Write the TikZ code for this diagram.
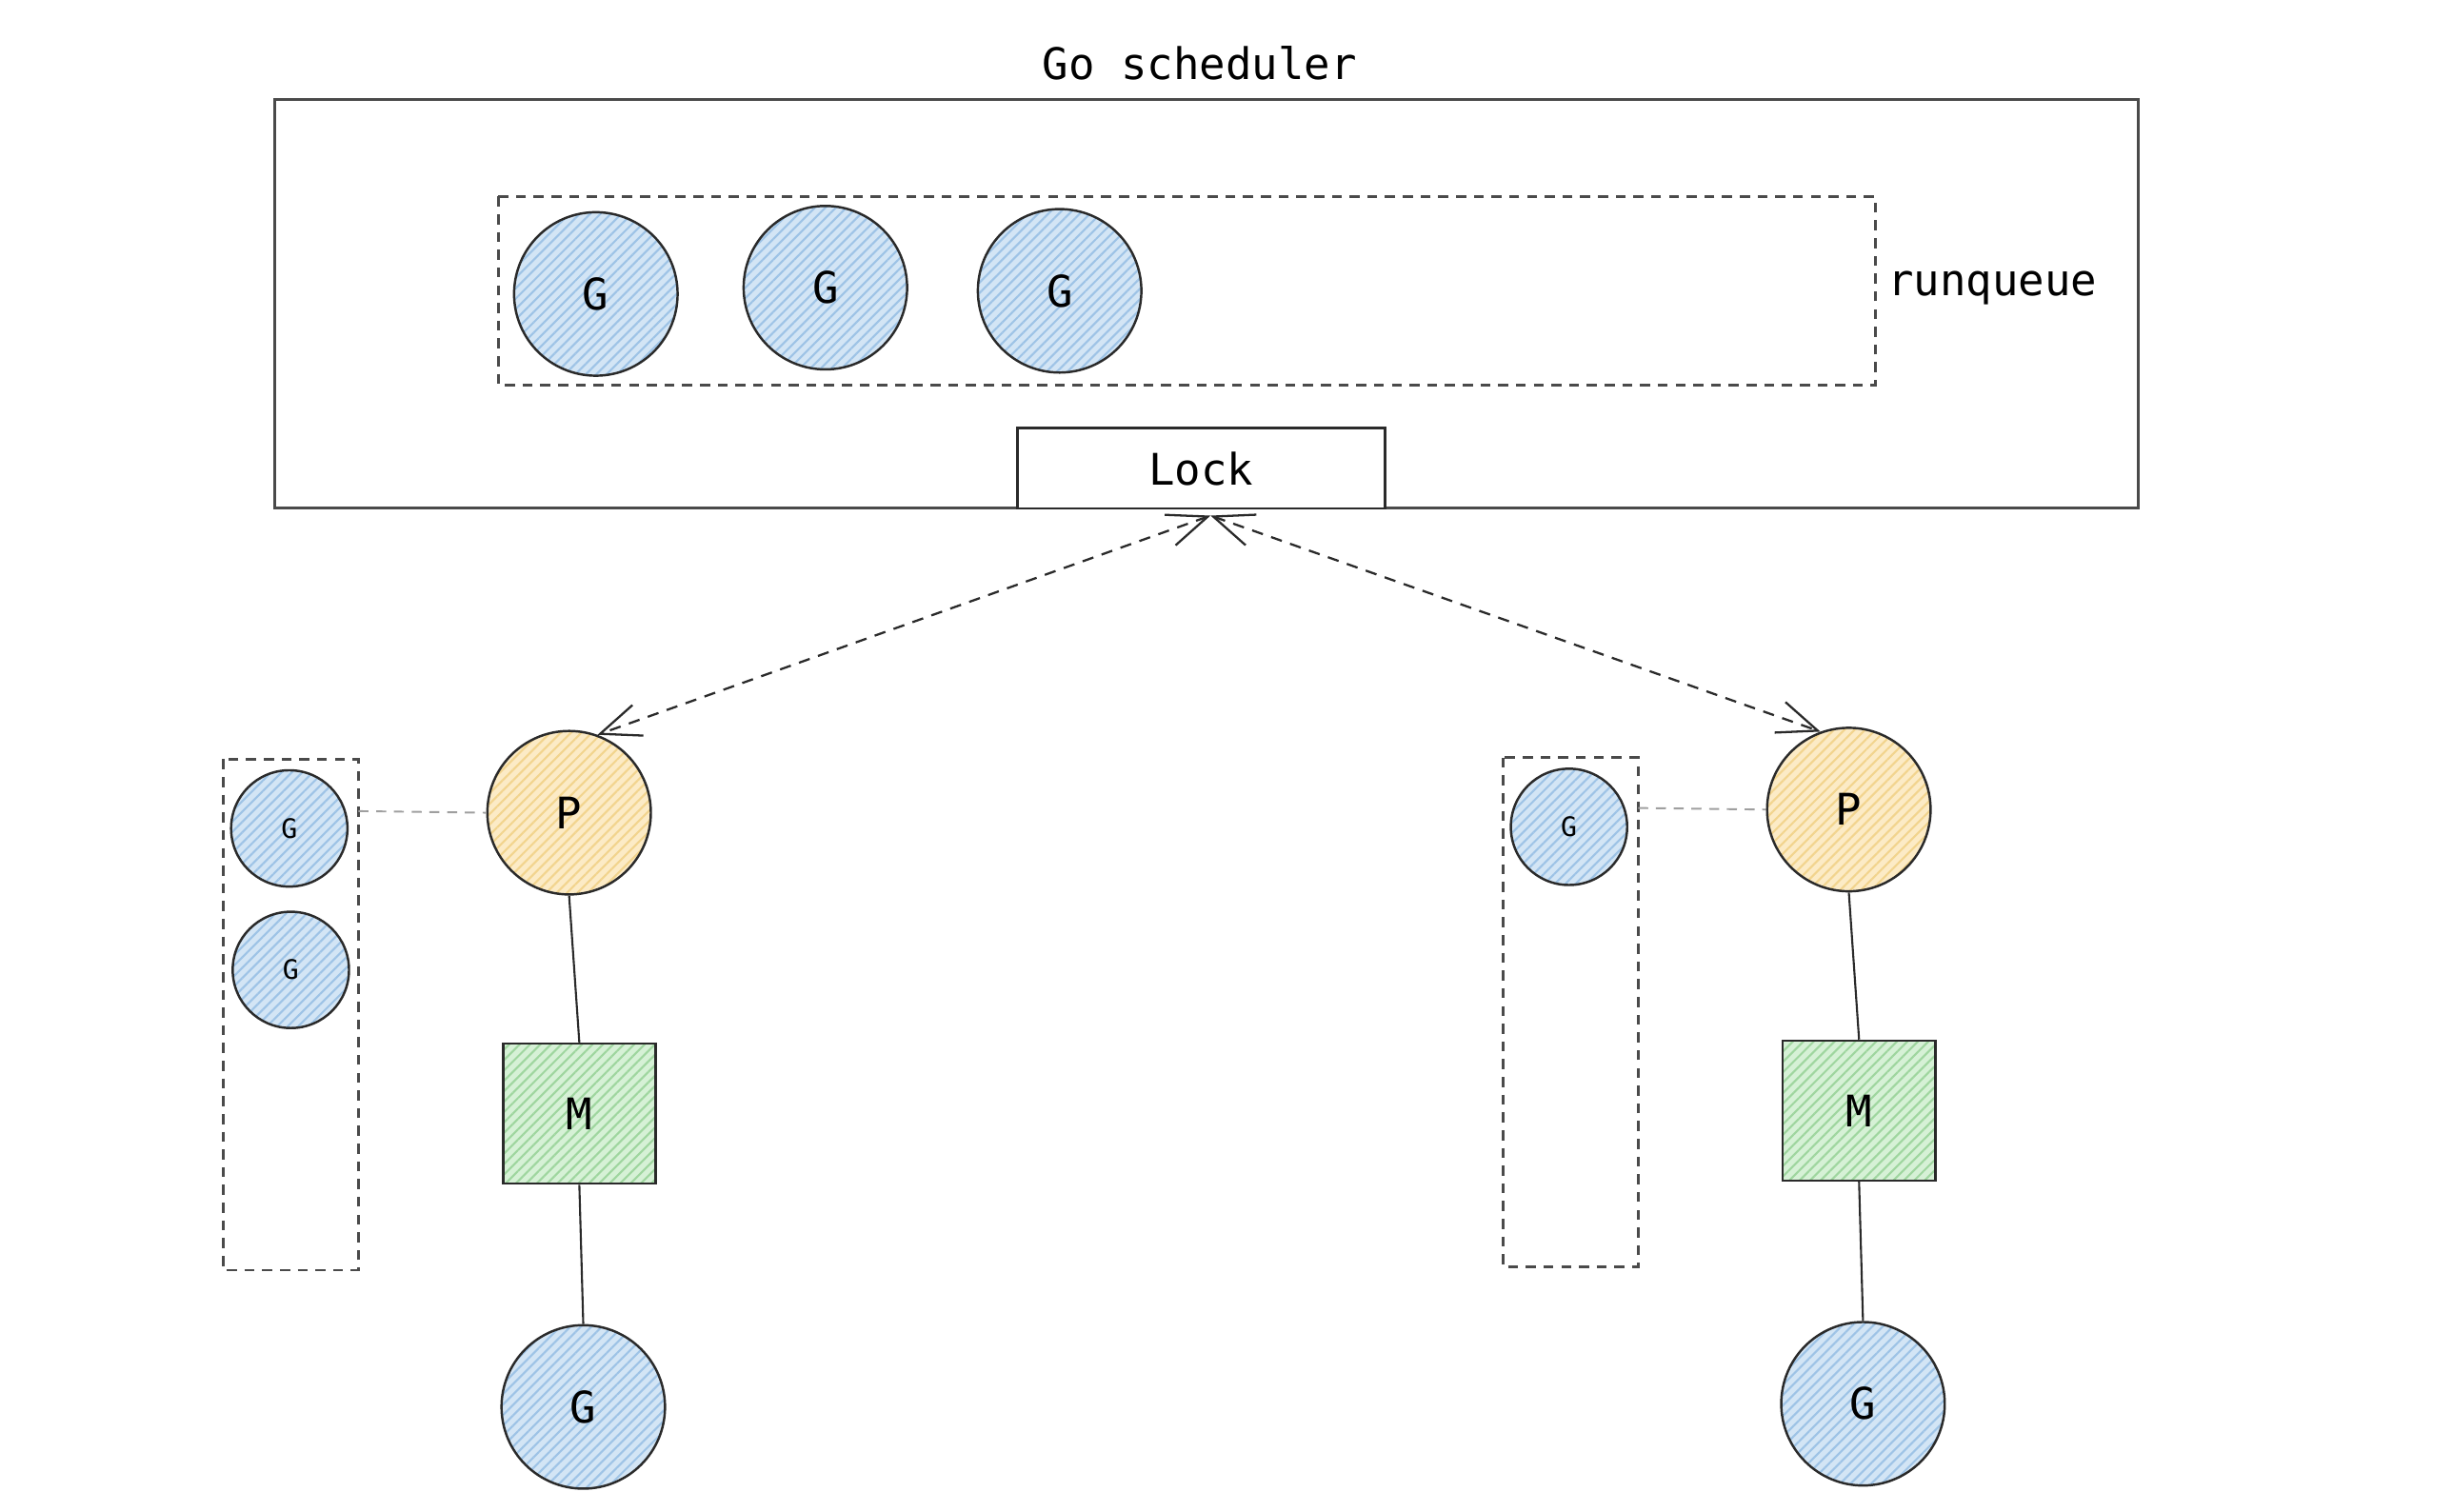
\documentclass[tikz,border=0pt]{standalone}
\usepackage{fontspec}
\setmonofont{DejaVu Sans Mono}
\usetikzlibrary{arrows.meta,patterns.meta}
\definecolor{gfill}{HTML}{D3E5F5}
\definecolor{gline}{HTML}{9EC3E6}
\definecolor{pfill}{HTML}{FCEBC6}
\definecolor{pline}{HTML}{F2D48E}
\definecolor{mfill}{HTML}{D6F1D6}
\definecolor{mline}{HTML}{9FD69F}
\definecolor{edge}{HTML}{2A2A2A}
\definecolor{dgray}{HTML}{4A4A4A}
\def\pu{0.01651cm}
\tikzset{
  gbig/.style={circle, draw=edge, line width=0.7pt, minimum size={104*\pu}, inner sep=0pt,
    preaction={fill=gfill}, pattern={Lines[angle=45,distance=2.2pt,line width=0.6pt]}, pattern color=gline,
    font=\ttfamily\fontsize{13}{15}\selectfont},
  gsmall/.style={gbig, minimum size={74*\pu}, font=\ttfamily\fontsize{8}{10}\selectfont},
  pnode/.style={gbig, preaction={fill=pfill}, pattern color=pline},
  mnode/.style={rectangle, draw=edge, line width=0.7pt, minimum width={97*\pu}, minimum height={89*\pu}, inner sep=0pt,
    preaction={fill=mfill}, pattern={Lines[angle=45,distance=2.2pt,line width=0.6pt]}, pattern color=mline,
    font=\ttfamily\fontsize{13}{15}\selectfont},
  qbox/.style={draw=dgray, line width=0.75pt, dash pattern=on 3pt off 2.3pt},
  link/.style={draw=edge, line width=0.6pt},
  plink/.style={draw=gray!75, line width=0.55pt, dash pattern=on 3pt off 2.3pt},
  lockarrow/.style={draw=edge, line width=0.65pt, dash pattern=on 3.4pt off 2.6pt,
    {Straight Barb[length=0.42cm,width=0.34cm,line width=0.65pt]}-{Straight Barb[length=0.42cm,width=0.34cm,line width=0.65pt]}},
  txt/.style={font=\ttfamily\fontsize{13}{15}\selectfont}
}
\begin{document}
\begin{tikzpicture}[x=\pu, y=-\pu]
\useasboundingbox (0,0) rectangle (1560.3,961.8);
% title
\node[txt] (title) at (763,40) {Go scheduler};
% outer scheduler box
\draw[draw=dgray, line width=0.85pt] (175,63) rectangle (1360,323);
% runqueue
\draw[qbox] (317,125) rectangle (1193,245);
\node[txt, anchor=west] (rq) at (1193,183) {runqueue};
\node[gbig] (g1) at (379,187) {G};
\node[gbig] (g2) at (525,183) {G};
\node[gbig] (g3) at (674,185) {G};
% lock
\node[draw=edge, line width=0.8pt, fill=white, minimum width={234*\pu}, minimum height={51*\pu}, inner sep=0pt, txt] (lock) at (764,298) {Lock};
\coordinate (lk) at (770,328);
% left group
\node[pnode] (p1) at (362,517) {P};
\node[mnode] (m1) at (368.5,708.5) {M};
\node[gbig] (gb1) at (371,895) {G};
\draw[qbox] (142,483) rectangle (228,808);
\coordinate (q1) at (228,516);
\node[gsmall] (s1) at (184,527) {G};
\node[gsmall] (s2) at (185,617) {G};
\draw[plink] (q1) -- (p1.west);
\draw[link] (p1.south) -- (m1.north);
\draw[link] (m1.south) -- (gb1.north);
% right group
\node[pnode] (p2) at (1176,515) {P};
\node[mnode] (m2) at (1182.5,706.5) {M};
\node[gbig] (gb2) at (1185,893) {G};
\draw[qbox] (956,482) rectangle (1042,806);
\coordinate (q2) at (1042,514);
\node[gsmall] (s3) at (998,526) {G};
\draw[plink] (q2) -- (p2.west);
\draw[link] (p2.south) -- (m2.north);
\draw[link] (m2.south) -- (gb2.north);
% lock arrows
\draw[lockarrow] (lk) -- (p1.70);
\draw[lockarrow] (lk) -- (p2.110);
\end{tikzpicture}
\end{document}
